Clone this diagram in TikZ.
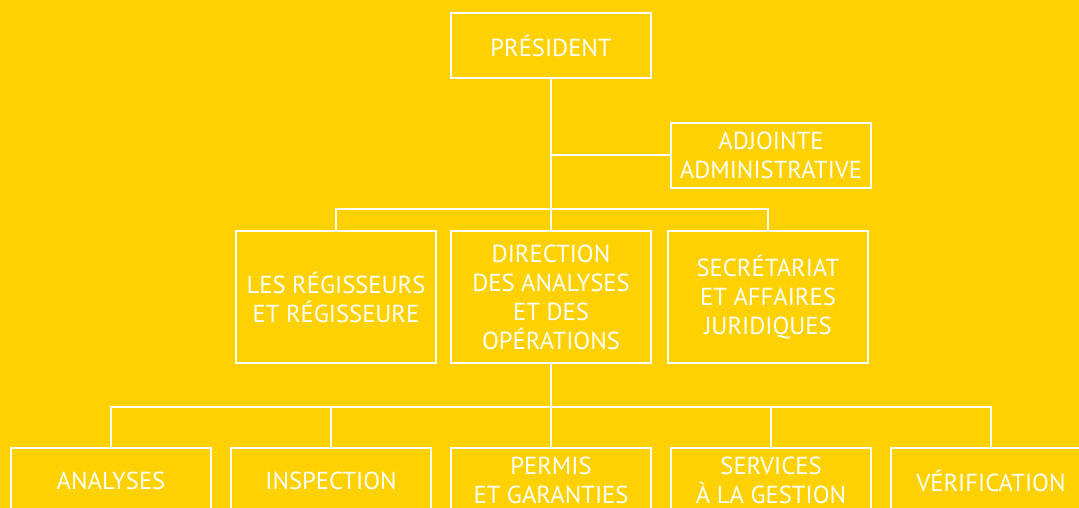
\documentclass[tikz,border=0pt]{standalone}
\usepackage{fontspec}
\setmainfont{PT Sans}
\definecolor{bgyellow}{HTML}{FFD100}
\begin{document}
\begin{tikzpicture}[x=1pt,y=-1pt,
  orgbox/.style={draw=white, line width=2pt, rectangle, text=white,
    minimum width=200pt, minimum height=65pt, inner sep=0pt, align=center,
    font=\fontsize{24.6}{29}\selectfont},
  tallbox/.style={orgbox, minimum height=132pt},
  conn/.style={draw=white, line width=2pt}]
\useasboundingbox (0,0) rectangle (1079,508);
\fill[bgyellow] (0,0) rectangle (1079,508);
\clip (0,0) rectangle (1079,508);
% top
\node[orgbox] (pres) at (551,45.5) {PRÉSIDENT};
\node[orgbox] (adj) at (771,155.5) {ADJOINTE\\ADMINISTRATIVE};
% middle row
\node[tallbox] (reg) at (336,297) {LES RÉGISSEURS\\ET RÉGISSEURE};
\node[tallbox] (dir) at (551,297) {DIRECTION\\DES ANALYSES\\ET DES\\OPÉRATIONS};
\node[tallbox] (sec) at (768,297) {SECRÉTARIAT\\ET AFFAIRES\\JURIDIQUES};
% bottom row
\node[orgbox] (ana) at (111,480.5) {ANALYSES};
\node[orgbox] (ins) at (331,480.5) {INSPECTION};
\node[orgbox] (per) at (551,480.5) {PERMIS\\ET GARANTIES};
\node[orgbox] (ser) at (771,480.5) {SERVICES\\À LA GESTION};
\node[orgbox] (ver) at (991,480.5) {VÉRIFICATION};
% connectors
\coordinate (b1) at (551,209);
\coordinate (b2) at (551,407);
\coordinate (a1) at (551,155);
\draw[conn] (pres.south) -- (dir.north);
\draw[conn] (a1) -- (a1 -| adj.west);
\draw[conn] (reg.north) |- (b1) -| (sec.north);
\draw[conn] (dir.south) -- (per.north);
\draw[conn] (ana.north) |- (b2) -| (ver.north);
\draw[conn] (ins.north) -- (ins.north |- b2);
\draw[conn] (ser.north) -- (ser.north |- b2);
\end{tikzpicture}
\end{document}
